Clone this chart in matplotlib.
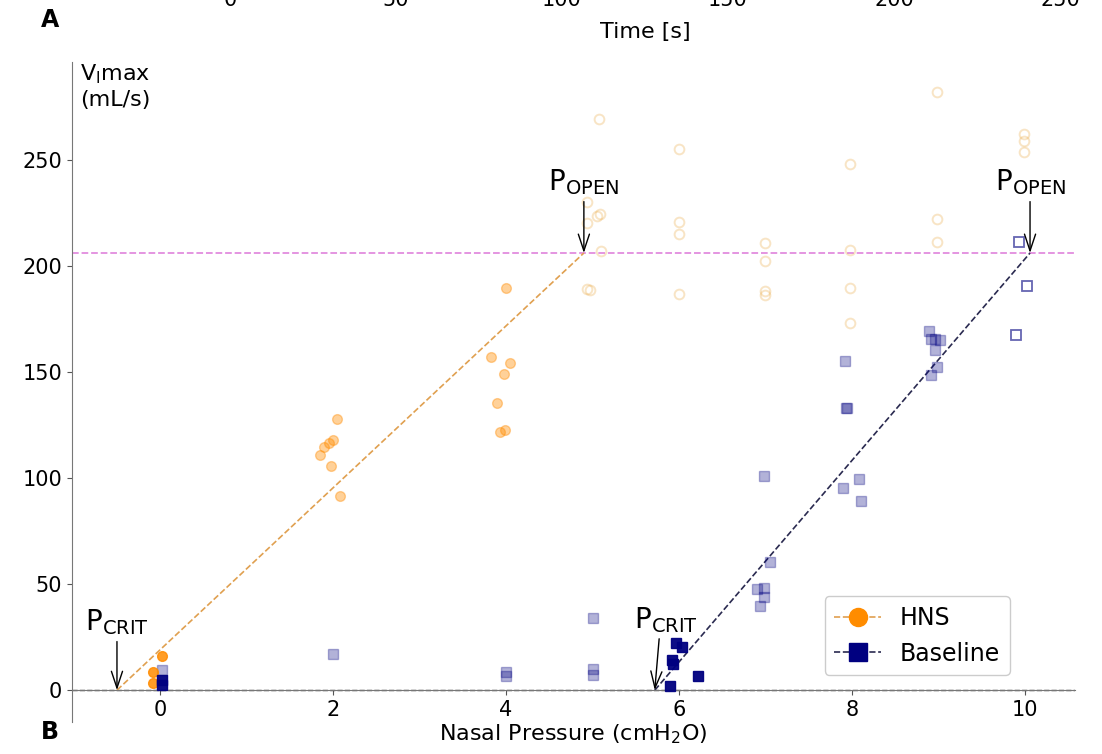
import matplotlib
matplotlib.use('Agg')
import matplotlib.pyplot as plt
from matplotlib.lines import Line2D

# HNS (circles): opaque points, faded points, hollow points above P_OPEN
hns_p_solid = [0.02, -0.08, -0.08]
hns_v_solid = [16.0, 8.5, 3.5]
hns_p_faded = [2.04, 2.00, 1.95, 1.90, 1.85, 1.97, 2.08,
               4.00, 3.83, 4.04, 3.98, 3.90, 3.93, 3.99]
hns_v_faded = [127.6, 117.8, 116.6, 114.7, 110.6, 105.5, 91.7,
               189.5, 156.8, 154.4, 149.0, 135.3, 121.5, 122.5]
hns_p_open = [5.08, 4.94, 4.94, 5.05, 5.09, 5.10, 4.94, 4.97,
              6.00, 6.00, 6.00, 6.00,
              6.99, 6.99, 6.99, 7.00,
              7.98, 7.98, 7.98, 7.98,
              8.98, 8.98, 8.98,
              9.99, 9.99, 9.99]
hns_v_open = [269.0, 230.0, 220.0, 223.5, 224.4, 207.0, 189.0, 188.5,
              254.8, 220.5, 215.1, 186.5,
              210.7, 202.4, 188.0, 186.0,
              248.0, 207.5, 189.6, 173.2,
              282.0, 222.2, 211.3,
              262.2, 258.8, 253.4]

# Baseline (squares)
base_p_solid = [0.02, 0.02, 5.97, 6.04, 5.92, 5.93, 5.90, 6.22]
base_v_solid = [4.7, 2.4, 22.0, 20.5, 14.2, 12.5, 1.9, 6.5]
base_p_faded = [0.02, 2.00, 4.00, 4.00, 5.00, 5.00, 5.00,
                6.98, 7.05, 6.90, 6.98, 6.98, 6.94,
                7.92, 7.93, 7.94, 7.90, 8.08, 8.10,
                8.89, 8.91, 9.02, 8.96, 8.96, 8.98, 8.91]
base_v_faded = [9.5, 17.0, 8.7, 6.6, 33.8, 9.8, 7.2,
                101.0, 60.5, 47.5, 48.0, 44.0, 39.6,
                155.0, 133.0, 133.0, 95.2, 99.6, 89.0,
                169.4, 165.6, 165.0, 165.3, 160.3, 152.4, 148.6]
base_p_open = [9.93, 10.03, 9.90]
base_v_open = [211.3, 190.5, 167.5]

# fitted Starling resistor parameters
hns_pcrit, hns_popen = -0.5, 4.9
base_pcrit, base_popen = 5.72, 10.06
vimax = 206.0

time_ticks = [0, 50, 100, 150, 200, 250]

hns_color = '#ff8c00'
base_color = '#000080'

fig = plt.figure(figsize=(11.02, 7.54), dpi=100)

# bottom of panel A peeking in at the top edge
axA = fig.add_axes([230 / 1102, 1.0255, (1060 - 230) / 1102, 0.2])
axA.set_xlim(0, 250)
axA.set_xticks(time_ticks)
axA.set_yticks([])
axA.tick_params(axis='x', labelsize=15)
axA.set_xlabel('Time [s]', fontsize=16, labelpad=8)
for s in axA.spines.values():
    s.set_visible(False)

ax = fig.add_axes([72 / 1102, 1 - 722 / 754, (1075 - 72) / 1102, (722 - 62) / 754])
ax.set_xlim(-1.02, 10.58)
ax.set_ylim(-15, 296)

ax.spines['top'].set_visible(False)
ax.spines['right'].set_visible(False)
ax.spines['bottom'].set_position(('data', 0))
ax.spines['bottom'].set_color('#777777')
ax.spines['left'].set_color('#777777')
ax.tick_params(colors='#555555', labelcolor='black', labelsize=15)
ax.set_xticks([0, 2, 4, 6, 8, 10])
ax.set_yticks([0, 50, 100, 150, 200, 250])

ax.axhline(0, color='#333333', ls='--', lw=1.0, zorder=1)
ax.axhline(vimax, color='orchid', ls='--', lw=1.3, alpha=0.8, zorder=1)

# fit lines
ax.plot([hns_pcrit, hns_popen], [0, vimax], ls='--', lw=1.2, color='#e0a050', zorder=2)
ax.plot([base_pcrit, base_popen], [0, vimax], ls='--', lw=1.2, color='#2a2a50', zorder=2)

ms = 7
ax.plot(hns_p_open, hns_v_open, 'o', ms=ms, mfc='none', mec='#e8a030', mew=1.4, alpha=0.28, zorder=3)
ax.plot(hns_p_faded, hns_v_faded, 'o', ms=ms, color=hns_color, alpha=0.4, zorder=3)
ax.plot(hns_p_solid, hns_v_solid, 'o', ms=ms, color=hns_color, alpha=0.85, zorder=4)

ax.plot(base_p_open, base_v_open, 's', ms=ms, mfc='none', mec=base_color, mew=1.3, alpha=0.6, zorder=3)
ax.plot(base_p_faded, base_v_faded, 's', ms=ms, color=base_color, alpha=0.3, zorder=3)
ax.plot(base_p_solid, base_v_solid, 's', ms=ms, color=base_color, alpha=0.95, zorder=4)

arrow = dict(arrowstyle='->,head_length=0.6,head_width=0.2', color='black', lw=1.0,
             shrinkA=1, shrinkB=0)
ax.annotate(r'P$_{\mathrm{CRIT}}$', xy=(hns_pcrit, 0), xytext=(0, 38),
            textcoords='offset points', ha='center', va='bottom', fontsize=20,
            arrowprops=arrow)
ax.annotate(r'P$_{\mathrm{CRIT}}$', xy=(base_pcrit, 0), xytext=(8, 40),
            textcoords='offset points', ha='center', va='bottom', fontsize=20,
            arrowprops=dict(arrow, relpos=(0.4, 0)))
ax.annotate(r'P$_{\mathrm{OPEN}}$', xy=(hns_popen, vimax), xytext=(0, 40),
            textcoords='offset points', ha='center', va='bottom', fontsize=20,
            arrowprops=arrow)
ax.annotate(r'P$_{\mathrm{OPEN}}$', xy=(base_popen, vimax), xytext=(0, 40),
            textcoords='offset points', ha='center', va='bottom', fontsize=20,
            arrowprops=arrow)

ax.text(0.008, 1.0, 'V$_{\\mathrm{I}}$max\n(mL/s)', transform=ax.transAxes,
        ha='left', va='top', fontsize=16, linespacing=1.3)
ax.set_xlabel('Nasal Pressure (cmH$_2$O)', fontsize=16, labelpad=2)

handles = [Line2D([], [], ls='--', lw=1.2, color='#e0a050', marker='o', ms=13,
                  mfc=hns_color, mec=hns_color),
           Line2D([], [], ls='--', lw=1.2, color='#2a2a50', marker='s', ms=13,
                  mfc=base_color, mec=base_color)]
ax.legend(handles, ['HNS', 'Baseline'], loc='lower right', bbox_to_anchor=(0.935, 0.071),
          borderaxespad=0, fontsize=17, handlelength=2.0, framealpha=1.0)

fig.text(50 / 1102, 1 - 20 / 754, 'A', fontsize=17, fontweight='bold', ha='center', va='center')
fig.text(50 / 1102, 1 - 732 / 754, 'B', fontsize=17, fontweight='bold', ha='center', va='center')

fig.savefig('out.png', dpi=100)
